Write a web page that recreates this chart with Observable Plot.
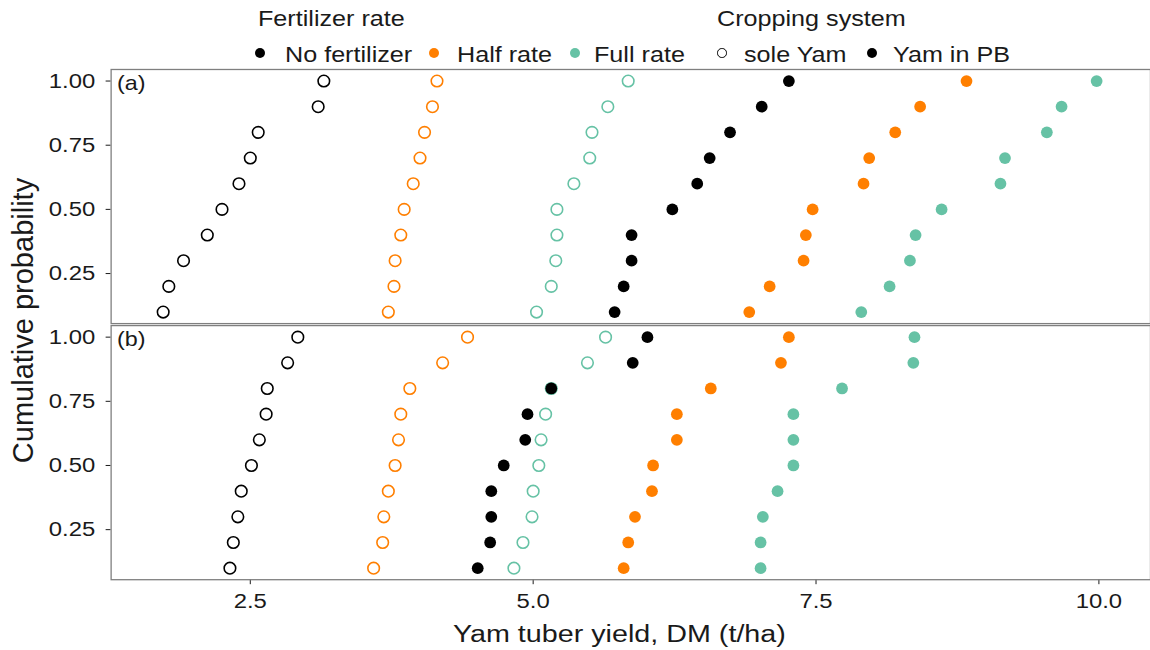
<!DOCTYPE html>
<html>
<head>
<meta charset="utf-8">
<script src="https://cdn.jsdelivr.net/npm/d3@7"></script>
<script src="https://cdn.jsdelivr.net/npm/@observablehq/plot@0.6"></script>
<style>
  html, body { margin: 0; padding: 0; background: #fff; }
  body { font-family: "Liberation Sans", Arial, Helvetica, sans-serif; color: #1a1a1a; }
  #wrap { position: relative; width: 1150px; height: 650px; overflow: hidden; }
  .lt { position: absolute; white-space: nowrap; font-size: 21.5px; line-height: 21.5px; transform-origin: left center; transform: scaleX(1.17); }
  .key { position: absolute; box-sizing: border-box; border-radius: 50%; }
</style>
</head>
<body>
<div id="wrap">
  <div id="legend" style="position:absolute;left:0;top:0;width:1150px;height:66px;"></div>
  <div id="chart" style="position:absolute;left:0;top:66px;"></div>
  <div id="xtitle" style="position:absolute;white-space:nowrap;font-size:23px;line-height:23px;transform-origin:left center;transform:scaleX(1.248);"></div>
  <div id="ytitle" style="position:absolute;white-space:nowrap;font-size:29px;line-height:29px;width:400px;text-align:center;"></div>
</div>
<script>
// ---------- data ----------
const panels = ["a", "b"];
const panelLabels = ["(a)", "(b)"];
const rates = ["No fertilizer", "Half rate", "Full rate"];
const rateColors = ["#000000", "#FF7F00", "#66C2A5"];
const systems = ["sole Yam", "Yam in PB"];
const probs = [0.1, 0.2, 0.3, 0.4, 0.5, 0.6, 0.7, 0.8, 0.9, 1.0];
const xTicks = [2.5, 5.0, 7.5, 10.0];
const yTicks = [0.25, 0.50, 0.75, 1.00];
const xTitle = "Yam tuber yield, DM (t/ha)";
const yTitle = "Cumulative probability";
const legendTitles = ["Fertilizer rate", "Cropping system"];

// panel (a)
const a_sole_none = [1.73, 1.78, 1.91, 2.12, 2.25, 2.40, 2.50, 2.57, 3.10, 3.15];
const a_sole_half = [3.72, 3.77, 3.78, 3.83, 3.86, 3.94, 4.00, 4.04, 4.11, 4.15];
const a_sole_full = [5.03, 5.16, 5.20, 5.21, 5.21, 5.36, 5.50, 5.52, 5.66, 5.84];
const a_pb_none   = [5.72, 5.80, 5.87, 5.87, 6.23, 6.45, 6.56, 6.74, 7.02, 7.26];
const a_pb_half   = [6.91, 7.09, 7.39, 7.41, 7.47, 7.92, 7.97, 8.20, 8.42, 8.83];
const a_pb_full   = [7.90, 8.15, 8.33, 8.38, 8.61, 9.13, 9.17, 9.54, 9.67, 9.98];
// panel (b)
const b_sole_none = [2.32, 2.35, 2.39, 2.42, 2.51, 2.58, 2.64, 2.65, 2.83, 2.92];
const b_sole_half = [3.59, 3.67, 3.68, 3.72, 3.78, 3.81, 3.83, 3.91, 4.20, 4.42];
const b_sole_full = [4.83, 4.91, 4.99, 5.00, 5.05, 5.07, 5.11, 5.16, 5.48, 5.64];
const b_pb_none   = [4.51, 4.62, 4.63, 4.63, 4.74, 4.93, 4.95, 5.16, 5.88, 6.01];
const b_pb_half   = [5.80, 5.84, 5.90, 6.05, 6.06, 6.27, 6.27, 6.57, 7.19, 7.26];
const b_pb_full   = [7.01, 7.01, 7.03, 7.16, 7.30, 7.30, 7.30, 7.73, 8.36, 8.37];

const series = [
  ["a", systems[0], rates[0], a_sole_none],
  ["a", systems[0], rates[1], a_sole_half],
  ["a", systems[0], rates[2], a_sole_full],
  ["a", systems[1], rates[0], a_pb_none],
  ["a", systems[1], rates[1], a_pb_half],
  ["a", systems[1], rates[2], a_pb_full],
  ["b", systems[0], rates[0], b_sole_none],
  ["b", systems[0], rates[1], b_sole_half],
  ["b", systems[0], rates[2], b_sole_full],
  ["b", systems[1], rates[0], b_pb_none],
  ["b", systems[1], rates[1], b_pb_half],
  ["b", systems[1], rates[2], b_pb_full]
];
const rows = series.flatMap(([panel, system, rate, vals], si) =>
  vals.map((v, i) => ({panel, system, rate, x: v, y: probs[i], first: si % 6 === 0 && i === 0})));

// ---------- chart ----------
const FONT = "'Liberation Sans', Arial, Helvetica, sans-serif";
const chart = Plot.plot({
  width: 1154,
  height: 552,
  marginLeft: 111,
  marginRight: 0,
  marginTop: 2.3,
  marginBottom: 35.6,
  style: {fontFamily: FONT, fontSize: "20.5px", color: "#1a1a1a", background: "white"},
  facet: {data: rows, y: "panel"},
  fy: {domain: panels, paddingInner: 0.006, paddingOuter: 0, axis: null, label: null},
  x: {domain: [1.27, 10.456], ticks: xTicks, tickFormat: d3.format(".1f"), tickSize: 5, tickPadding: 9, label: null},
  y: {domain: [0.055, 1.045], ticks: yTicks, tickFormat: d3.format(".2f"), tickSize: 5, tickPadding: 11, label: null},
  color: {domain: rates, range: rateColors},
  marks: [
    Plot.frame({stroke: "#7f7f7f", strokeWidth: 1.3}),
    Plot.dot(rows, {filter: d => d.system === systems[0], x: "x", y: "y", stroke: "rate", fill: "none", r: 5.8, strokeWidth: 1.6}),
    Plot.dot(rows, {filter: d => d.system === systems[1], x: "x", y: "y", fill: "rate", r: 5.9}),
    Plot.text(rows, {filter: d => d.first, text: d => panelLabels[panels.indexOf(d.panel)],
      frameAnchor: "top-left", dx: 6, dy: 6.5, lineAnchor: "top", textAnchor: "start", fontSize: 20, fill: "#1a1a1a"})
  ]
});
document.getElementById("chart").appendChild(chart);

// widen glyphs horizontally like the reference rendering
chart.querySelectorAll("text").forEach(t => {
  const w = t.getComputedTextLength();
  if (w > 0) {
    t.setAttribute("textLength", (w * 1.17).toFixed(2));
    t.setAttribute("lengthAdjust", "spacingAndGlyphs");
  }
});
chart.querySelectorAll(".tick line, [aria-label$='axis'] line").forEach(l => {
  l.setAttribute("stroke", "#4d4d4d");
  l.setAttribute("stroke-width", "1.2");
});

// ---------- legend ----------
const legend = document.getElementById("legend");
function addText(txt, left, baseline) {
  const s = document.createElement("div");
  s.className = "lt";
  s.textContent = txt;
  s.style.left = left + "px";
  s.style.top = (baseline - 18.2) + "px";
  legend.appendChild(s);
}
function addKey(cx, cy, color, open) {
  const k = document.createElement("div");
  k.className = "key";
  const d = open ? 9.5 : 10.5;
  k.style.width = d + "px";
  k.style.height = d + "px";
  k.style.left = (cx - d / 2) + "px";
  k.style.top = (cy - d / 2) + "px";
  if (open) k.style.border = "1.4px solid " + color;
  else k.style.background = color;
  legend.appendChild(k);
}
addText(legendTitles[0], 258.3, 27.3);
addText(legendTitles[1], 717.3, 27.3);
const rateKeyX = [260, 434, 575];
const rateTextX = [285, 456.7, 594];
rates.forEach((r, i) => { addKey(rateKeyX[i], 53, rateColors[i], false); addText(r, rateTextX[i], 63.3); });
const sysKeyX = [722, 872];
const sysTextX = [744, 892.7];
systems.forEach((s, i) => { addKey(sysKeyX[i], 53, "#000000", i === 0); addText(s, sysTextX[i], 63.3); });

// ---------- axis titles ----------
const xt = document.getElementById("xtitle");
xt.textContent = xTitle;
xt.style.left = "452.7px";
xt.style.top = (642.7 - 19.5) + "px";

const yt = document.getElementById("ytitle");
yt.textContent = yTitle;
yt.style.left = (23.3 - 200) + "px";
yt.style.top = (320 - 14.5) + "px";
yt.style.transform = "rotate(-90deg)";
</script>
</body>
</html>
